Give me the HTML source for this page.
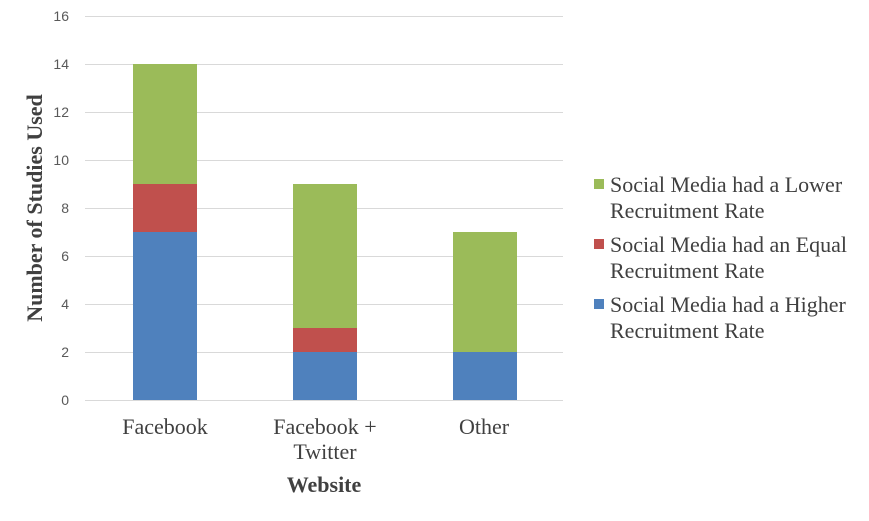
<!DOCTYPE html>
<html><head><style>body{margin:0;background:#fff}</style></head><body>
<svg width="869" height="516" xmlns="http://www.w3.org/2000/svg" font-family="Liberation Serif, serif">
<rect width="869" height="516" fill="#fff"/>
<g stroke="#d9d9d9" stroke-width="1">
<line x1="85" x2="563" y1="16.5" y2="16.5"/>
<line x1="85" x2="563" y1="64.5" y2="64.5"/>
<line x1="85" x2="563" y1="112.5" y2="112.5"/>
<line x1="85" x2="563" y1="160.5" y2="160.5"/>
<line x1="85" x2="563" y1="208.5" y2="208.5"/>
<line x1="85" x2="563" y1="256.5" y2="256.5"/>
<line x1="85" x2="563" y1="304.5" y2="304.5"/>
<line x1="85" x2="563" y1="352.5" y2="352.5"/>
<line x1="85" x2="563" y1="400.5" y2="400.5"/>
</g>
<g font-size="14" fill="#595959" text-anchor="end" font-family="Liberation Sans, sans-serif">
<text x="69" y="405">0</text><text x="69" y="357">2</text><text x="69" y="309">4</text>
<text x="69" y="261">6</text><text x="69" y="213">8</text><text x="69" y="165">10</text>
<text x="69" y="117">12</text><text x="69" y="69">14</text><text x="69" y="21">16</text>
</g>
<rect x="133" y="232" width="64" height="168" fill="#4F81BD"/>
<rect x="133" y="184" width="64" height="48" fill="#C0504D"/>
<rect x="133" y="64" width="64" height="120" fill="#9BBB59"/>
<rect x="293" y="352" width="64" height="48" fill="#4F81BD"/>
<rect x="293" y="328" width="64" height="24" fill="#C0504D"/>
<rect x="293" y="184" width="64" height="144" fill="#9BBB59"/>
<rect x="453" y="352" width="64" height="48" fill="#4F81BD"/>
<rect x="453" y="232" width="64" height="120" fill="#9BBB59"/>
<g font-size="22" fill="#404040" text-anchor="middle">
<text x="165" y="434">Facebook</text>
<text x="325" y="434">Facebook +</text><text x="325" y="459">Twitter</text>
<text x="484" y="434">Other</text>
</g>
<text x="324" y="492" font-size="22" font-weight="bold" fill="#404040" text-anchor="middle">Website</text>
<text transform="translate(42,208) rotate(-90)" font-size="22" font-weight="bold" fill="#404040" text-anchor="middle">Number of Studies Used</text>
<rect x="594" y="179" width="10" height="10" fill="#9BBB59"/>
<rect x="594" y="239" width="10" height="10" fill="#C0504D"/>
<rect x="594" y="299" width="10" height="10" fill="#4F81BD"/>
<g font-size="22" fill="#404040">
<text x="610" y="192">Social Media had a Lower</text><text x="610" y="218">Recruitment Rate</text>
<text x="610" y="252">Social Media had an Equal</text><text x="610" y="278">Recruitment Rate</text>
<text x="610" y="312">Social Media had a Higher</text><text x="610" y="338">Recruitment Rate</text>
</g>
</svg>
</body></html>
